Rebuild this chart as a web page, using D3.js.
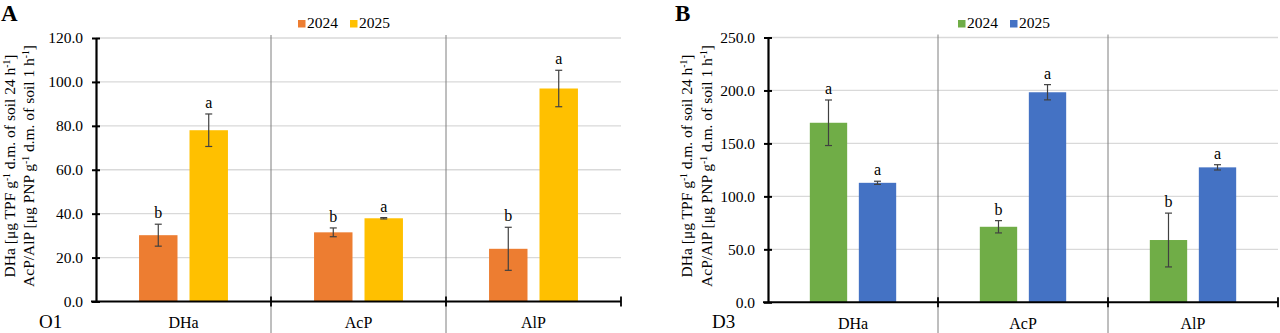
<!DOCTYPE html>
<html>
<head>
<meta charset="utf-8">
<script src="https://cdn.jsdelivr.net/npm/d3@7"></script>
<style>
  html, body { margin: 0; padding: 0; background: #fff; }
  svg { display: block; font-family: "Liberation Serif", "Times New Roman", serif; }
</style>
</head>
<body>
<svg id="chart" width="1280" height="333"></svg>
<script>
// ---------- data ----------
const categories = ["DHa", "AcP", "AlP"];
const seriesNames = ["2024", "2025"];

// Panel A (O1)
const a2024Values = [30.2, 31.5, 24.0];
const a2024Errors = [5.0, 2.0, 9.8];
const a2024Letters = ["b", "b", "b"];
const a2025Values = [78.0, 37.9, 97.0];
const a2025Errors = [7.4, 0.3, 8.3];
const a2025Letters = ["a", "a", "a"];
const aTicks = [0, 20, 40, 60, 80, 100, 120];

// Panel B (D3)
const b2024Values = [169.5, 71.3, 58.8];
const b2024Errors = [21.5, 5.8, 25.4];
const b2024Letters = ["a", "b", "b"];
const b2025Values = [112.8, 198.3, 127.4];
const b2025Errors = [1.5, 7.2, 2.5];
const b2025Letters = ["a", "a", "a"];
const bTicks = [0, 50, 100, 150, 200, 250];

const yTitleLine1 = ["DHa [μg TPF g", "-1", " d.m. of soil 24 h", "-1", "]"];
const yTitleLine2 = ["AcP/AlP [μg PNP g", "-1", " d.m. of soil 1 h", "-1", "]"];

// ---------- drawing ----------
const svg = d3.select("#chart");

function drawPanel(cfg) {
  const g = svg.append("g");
  const y = d3.scaleLinear().domain([0, cfg.yMax]).range([cfg.bottom, cfg.top]);
  const x = d3.scaleBand().domain(categories).range([cfg.left, cfg.right]).padding(0);
  const cw = x.bandwidth();
  const xi = d3.scaleBand().domain(seriesNames)
    .range([cw * 0.246, cw * 0.754]).paddingInner(0.238).paddingOuter(0);

  // gridlines
  g.selectAll("line.grid").data(cfg.ticks.filter(t => t > 0)).join("line")
    .attr("x1", cfg.left).attr("x2", cfg.right)
    .attr("y1", d => y(d)).attr("y2", d => y(d))
    .attr("stroke", "#d9d9d9").attr("stroke-width", 1.3);

  // category dividers
  const dividers = categories.slice(1).map(c => x(c));
  g.selectAll("line.div").data(dividers).join("line")
    .attr("x1", d => d).attr("x2", d => d)
    .attr("y1", cfg.top - 3).attr("y2", 333)
    .attr("stroke", "#7f7f7f").attr("stroke-width", 1);

  // bars
  const series = [
    { name: "2024", values: cfg.v1, errors: cfg.e1, letters: cfg.l1, color: cfg.c1 },
    { name: "2025", values: cfg.v2, errors: cfg.e2, letters: cfg.l2, color: cfg.c2 }
  ];
  series.forEach(s => {
    const rows = categories.map((c, i) => ({ c, v: s.values[i], e: s.errors[i], l: s.letters[i] }));
    const cx = d => x(d.c) + xi(s.name) + xi.bandwidth() / 2;
    g.selectAll(null).data(rows).join("rect")
      .attr("x", d => x(d.c) + xi(s.name))
      .attr("width", xi.bandwidth())
      .attr("y", d => y(d.v))
      .attr("height", d => y(0) - y(d.v))
      .attr("fill", s.color);
    // error bars
    g.selectAll(null).data(rows).join("line")
      .attr("x1", cx).attr("x2", cx)
      .attr("y1", d => y(d.v + d.e)).attr("y2", d => y(d.v - d.e))
      .attr("stroke", "#404040").attr("stroke-width", 1.2);
    ["+", "-"].forEach(sign => {
      g.selectAll(null).data(rows).join("line")
        .attr("x1", d => cx(d) - 3.5).attr("x2", d => cx(d) + 3.5)
        .attr("y1", d => y(sign === "+" ? d.v + d.e : d.v - d.e))
        .attr("y2", d => y(sign === "+" ? d.v + d.e : d.v - d.e))
        .attr("stroke", "#404040").attr("stroke-width", 1.2);
    });
    // letters
    g.selectAll(null).data(rows).join("text")
      .attr("x", cx).attr("y", d => y(d.v + d.e) - 6)
      .attr("text-anchor", "middle").attr("font-size", 16).attr("fill", "#000")
      .text(d => d.l);
  });

  // y axis
  const yAxis = d3.axisLeft(y).tickValues(cfg.ticks).tickFormat(d3.format(".1f"))
    .tickSizeInner(4).tickSizeOuter(0).tickPadding(9);
  const ya = g.append("g").attr("transform", `translate(${cfg.left},0)`).call(yAxis);
  ya.select(".domain").attr("stroke", "#000").attr("stroke-width", 2.2);
  ya.selectAll(".tick line").attr("x2", 4).attr("x1", -4).attr("stroke", "#000").attr("stroke-width", 2);
  ya.selectAll(".tick text").attr("font-size", 15.5).attr("font-family", "Liberation Serif, Times New Roman, serif").attr("fill", "#000");

  // x axis baseline
  const xa = g.append("g").attr("transform", `translate(0,${cfg.bottom})`)
    .call(d3.axisBottom(x).tickSize(0).tickPadding(15));
  xa.select(".domain").remove();
  xa.append("line").attr("x1", cfg.left - 5).attr("x2", cfg.right)
    .attr("y1", 0).attr("y2", 0).attr("stroke", "#000").attr("stroke-width", 2);
  xa.selectAll(null).data([...dividers, cfg.right]).join("line")
    .attr("x1", d => d).attr("x2", d => d).attr("y1", -5).attr("y2", 5)
    .attr("stroke", "#000").attr("stroke-width", 1.8);
  xa.selectAll(".tick text").attr("font-size", 16).attr("font-family", "Liberation Serif, Times New Roman, serif")
    .attr("fill", "#000").attr("dy", "0.71em");

  // y title
  [yTitleLine1, yTitleLine2].forEach((parts, li) => {
    const t = g.append("text")
      .attr("transform", `translate(${cfg.titleX[li]},${cfg.titleY}) rotate(-90)`)
      .attr("text-anchor", "middle").attr("font-size", 15.5).attr("fill", "#000");
    parts.forEach((p, i) => {
      const ts = t.append("tspan").text(p);
      if (i % 2 === 1) ts.attr("font-size", 9.5).attr("dy", -5.5);
      else if (i > 0) ts.attr("dy", 5.5);
    });
  });

  // panel letter and site label
  g.append("text").attr("x", cfg.letterX).attr("y", 20.5).attr("font-size", 23)
    .attr("font-weight", "bold").attr("fill", "#000").text(cfg.letter);
  g.append("text").attr("x", cfg.siteX).attr("y", 328).attr("font-size", 19)
    .attr("fill", "#000").text(cfg.site);

  // legend
  const lg = g.append("g").attr("transform", `translate(${cfg.legendX},0)`);
  [cfg.c1, cfg.c2].forEach((c, i) => {
    lg.append("rect").attr("x", i * 52).attr("y", 20).attr("width", 7.5).attr("height", 7.5).attr("fill", c);
    lg.append("text").attr("x", i * 52 + 9).attr("y", 28).attr("font-size", 15.5).attr("fill", "#000")
      .text(seriesNames[i]);
  });
}

drawPanel({
  left: 96, right: 621, top: 38, bottom: 301.5, yMax: 120, ticks: aTicks,
  v1: a2024Values, e1: a2024Errors, l1: a2024Letters, c1: "#ED7D31",
  v2: a2025Values, e2: a2025Errors, l2: a2025Letters, c2: "#FFC000",
  titleX: [15, 34], titleY: 166, letter: "A", letterX: 1, site: "O1", siteX: 39, legendX: 298
});
drawPanel({
  left: 768, right: 1278, top: 37.5, bottom: 302.3, yMax: 250, ticks: bTicks,
  v1: b2024Values, e1: b2024Errors, l1: b2024Letters, c1: "#70AD47",
  v2: b2025Values, e2: b2025Errors, l2: b2025Letters, c2: "#4472C4",
  titleX: [692, 712], titleY: 166, letter: "B", letterX: 675, site: "D3", siteX: 712, legendX: 958
});
</script>
</body>
</html>
